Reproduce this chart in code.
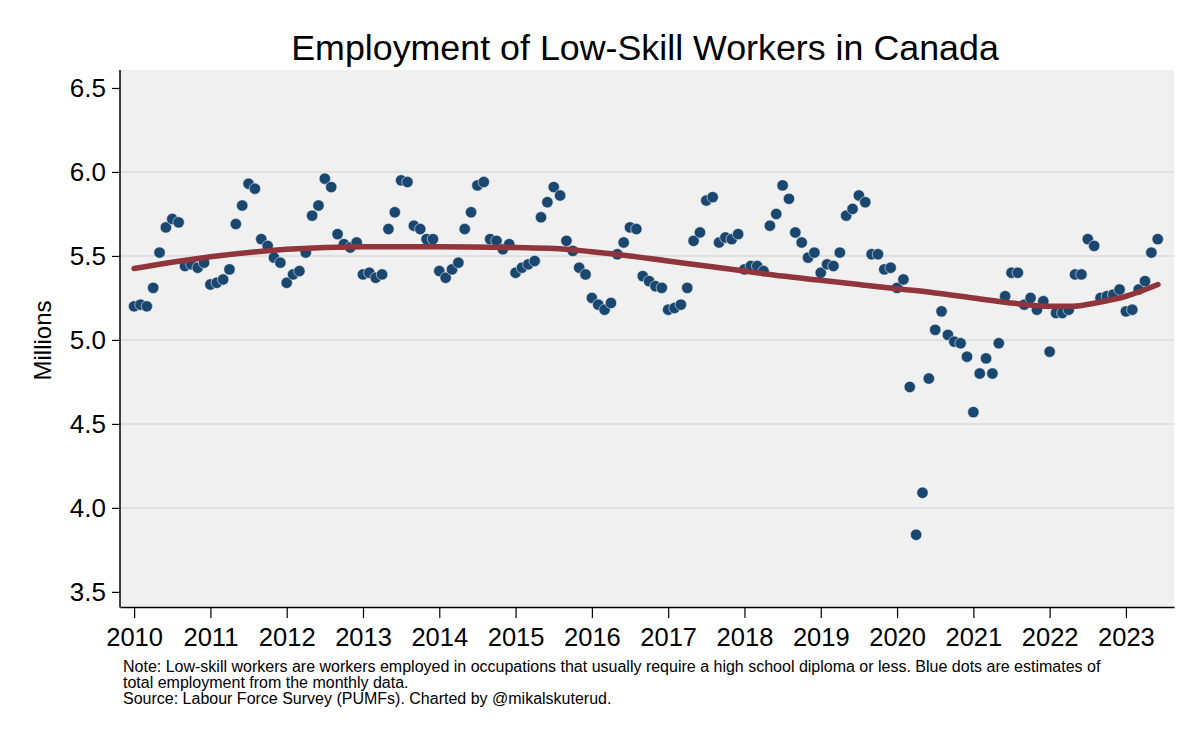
<!DOCTYPE html>
<html>
<head>
<meta charset="utf-8">
<script src="https://cdn.jsdelivr.net/npm/d3@7"></script>
<style>
  body { margin: 0; background: #fff; }
  .workspace { width: 1200px; height: 738px; }
  text { font-family: Arial, 'Liberation Sans', sans-serif; fill: #000; }
</style>
</head>
<body>
<div class="workspace"></div>
<script>
// monthly estimates, Jan 2010 - Jun 2023 (millions)
const startYear = 2010;
const employment = [
  // 2010
  5.20, 5.21, 5.20, 5.31, 5.52, 5.67, 5.72, 5.70, 5.44, 5.45, 5.43, 5.46,
  // 2011
  5.33, 5.34, 5.36, 5.42, 5.69, 5.80, 5.93, 5.90, 5.60, 5.56, 5.49, 5.46,
  // 2012
  5.34, 5.39, 5.41, 5.52, 5.74, 5.80, 5.96, 5.91, 5.63, 5.57, 5.55, 5.58,
  // 2013
  5.39, 5.40, 5.37, 5.39, 5.66, 5.76, 5.95, 5.94, 5.68, 5.66, 5.60, 5.60,
  // 2014
  5.41, 5.37, 5.42, 5.46, 5.66, 5.76, 5.92, 5.94, 5.60, 5.59, 5.54, 5.57,
  // 2015
  5.40, 5.43, 5.45, 5.47, 5.73, 5.82, 5.91, 5.86, 5.59, 5.53, 5.43, 5.39,
  // 2016
  5.25, 5.21, 5.18, 5.22, 5.51, 5.58, 5.67, 5.66, 5.38, 5.35, 5.32, 5.31,
  // 2017
  5.18, 5.19, 5.21, 5.31, 5.59, 5.64, 5.83, 5.85, 5.58, 5.61, 5.60, 5.63,
  // 2018
  5.42, 5.44, 5.44, 5.41, 5.68, 5.75, 5.92, 5.84, 5.64, 5.58, 5.49, 5.52,
  // 2019
  5.40, 5.45, 5.44, 5.52, 5.74, 5.78, 5.86, 5.82, 5.51, 5.51, 5.42, 5.43,
  // 2020
  5.31, 5.36, 4.72, 3.84, 4.09, 4.77, 5.06, 5.17, 5.03, 4.99, 4.98, 4.90,
  // 2021
  4.57, 4.80, 4.89, 4.80, 4.98, 5.26, 5.40, 5.40, 5.21, 5.25, 5.18, 5.23,
  // 2022
  4.93, 5.16, 5.16, 5.18, 5.39, 5.39, 5.60, 5.56, 5.25, 5.26, 5.27, 5.30,
  // 2023
  5.17, 5.18, 5.30, 5.35, 5.52, 5.60,
];

// smoothed trend
const trendYears = [
  2010.0, 2011.0, 2012.0, 2013.0, 2014.0, 2015.0, 2015.5, 2016.0, 2016.5,
  2017.0, 2017.5, 2018.0, 2018.5, 2019.0, 2019.5, 2020.0, 2020.5, 2021.0,
  2021.5, 2022.0, 2022.3, 2022.6, 2023.0, 2023.42,
];
const trendValues = [
  5.425, 5.495, 5.54, 5.555, 5.555, 5.55, 5.545, 5.525, 5.5,
  5.47, 5.44, 5.41, 5.38, 5.355, 5.33, 5.305, 5.28, 5.25,
  5.22, 5.2, 5.2, 5.22, 5.26, 5.33,
];

const yTicks = [3.5, 4.0, 4.5, 5.0, 5.5, 6.0, 6.5];
const xTicks = d3.range(2010, 2024);

const titleText = 'Employment of Low-Skill Workers in Canada';
const yTitle = 'Millions';
const noteLines = [
  'Note: Low-skill workers are workers employed in occupations that usually require a high school diploma or less. Blue dots are estimates of',
  'total employment from the monthly data.',
  'Source: Labour Force Survey (PUMFs). Charted by @mikalskuterud.',
];

let parameter = {
  width: 1200,
  height: 738,
  left: 120,
  right: 1174,
  top: 70,
  bottom: 607,
  dotColor: '#1a476f',
  lineColor: '#90353b',
};

function render() {
  const svgDom = d3
    .select('.workspace')
    .append('svg')
    .attr('width', parameter.width)
    .attr('height', parameter.height);

  const x = d3
    .scaleLinear()
    .domain([2009.815, 2023.63])
    .range([parameter.left, parameter.right]);
  const y = d3
    .scaleLinear()
    .domain([3.41, 6.607])
    .range([parameter.bottom, parameter.top]);

  // plot region background
  svgDom
    .append('rect')
    .attr('x', parameter.left)
    .attr('y', parameter.top)
    .attr('width', parameter.right - parameter.left)
    .attr('height', parameter.bottom - parameter.top)
    .style('fill', '#f0f0f0');

  // gridlines
  svgDom
    .append('g')
    .selectAll('line')
    .data(yTicks.filter((d) => d > 3.5 && d < 6.5))
    .enter()
    .append('line')
    .attr('x1', parameter.left)
    .attr('x2', parameter.right)
    .attr('y1', (d) => y(d))
    .attr('y2', (d) => y(d))
    .style('stroke', '#dcdcdc')
    .style('stroke-width', 1.5);

  // y axis
  const yAxis = svgDom
    .append('g')
    .attr('transform', `translate(${parameter.left},0)`)
    .call(
      d3
        .axisLeft(y)
        .tickValues(yTicks)
        .tickFormat(d3.format('.1f'))
        .tickSize(8)
        .tickPadding(6)
        .tickSizeOuter(0)
    );
  yAxis.select('.domain').attr('d', `M0,${parameter.top}V${parameter.bottom + 0.5}`);
  yAxis.selectAll('line').style('stroke', '#000').style('stroke-width', 1.2);
  yAxis.select('.domain').style('stroke', '#000').style('stroke-width', 1.5);
  yAxis
    .selectAll('text')
    .style('font-size', '26px')
    .style('font-family', 'Arial, Liberation Sans, sans-serif');

  // x axis
  const xAxis = svgDom
    .append('g')
    .attr('transform', `translate(0,${parameter.bottom})`)
    .call(
      d3
        .axisBottom(x)
        .tickValues(xTicks)
        .tickFormat(d3.format('d'))
        .tickSize(11)
        .tickPadding(10)
        .tickSizeOuter(0)
    );
  xAxis.select('.domain').style('stroke', '#000').style('stroke-width', 1.5);
  xAxis.selectAll('line').style('stroke', '#000').style('stroke-width', 1.2);
  xAxis
    .selectAll('text')
    .style('font-size', '25.5px')
    .style('font-family', 'Arial, Liberation Sans, sans-serif');

  // dots
  svgDom
    .append('g')
    .selectAll('circle')
    .data(employment)
    .enter()
    .append('circle')
    .attr('cx', (d, i) => x(startYear + i / 12))
    .attr('cy', (d) => y(d))
    .attr('r', 5.7)
    .style('fill', parameter.dotColor)
    .style('stroke', '#f0f0f0')
    .style('stroke-width', 0.6);

  // trend line
  const line = d3
    .line()
    .x((d, i) => x(trendYears[i]))
    .y((d) => y(d))
    .curve(d3.curveMonotoneX);
  svgDom
    .append('path')
    .datum(trendValues)
    .attr('d', line)
    .style('fill', 'none')
    .style('stroke', parameter.lineColor)
    .style('stroke-width', 5.5)
    .style('stroke-linecap', 'round');

  // title
  svgDom
    .append('text')
    .attr('x', (parameter.left + parameter.right) / 2 - 2)
    .attr('y', 60)
    .attr('text-anchor', 'middle')
    .style('font-size', '35.8px')
    .text(titleText);

  // y title
  svgDom
    .append('text')
    .attr('transform', `translate(51,${(parameter.top + parameter.bottom) / 2 + 2}) rotate(-90)`)
    .attr('text-anchor', 'middle')
    .style('font-size', '24px')
    .text(yTitle);

  // note
  svgDom
    .append('g')
    .selectAll('text')
    .data(noteLines)
    .enter()
    .append('text')
    .attr('x', 123)
    .attr('y', (d, i) => 672 + i * 16)
    .style('font-size', '16px')
    .text((d) => d);
}

render();
</script>
</body>
</html>
